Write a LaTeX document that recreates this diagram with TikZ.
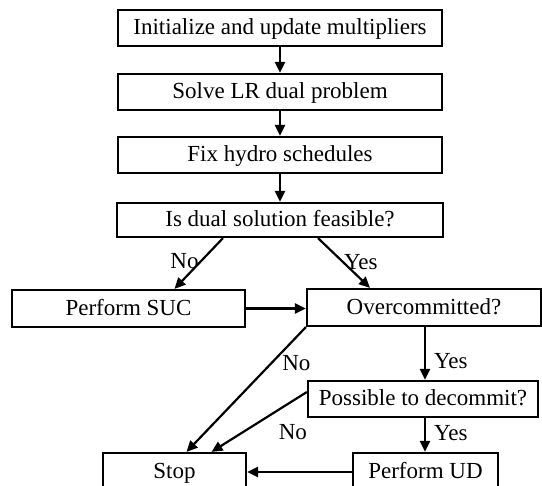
\documentclass[tikz,border=0pt]{standalone}
\usepackage{fontspec}
\setmainfont{Liberation Serif}
\usetikzlibrary{arrows.meta}
\tikzset{
	stepbox/.style={draw, line width=2.2pt, inner sep=0pt, text height=17pt, text depth=3pt},
	flow/.style={line width=2.2pt, -{Triangle[length=11pt, width=10pt]}},
	lbl/.style={inner sep=1pt}
}

\begin{document}
\begin{tikzpicture}[x=1pt, y=-1pt, font=\fontsize{23}{27}\selectfont]
		%%%%% START %%%%%
		
		\useasboundingbox (0, 0) rectangle (542, 486);
		\clip (0, 0) rectangle (542, 486);
		
		\node[stepbox, minimum width=324pt, minimum height=36pt] (init) at (280, 28) {Initialize and update multipliers};
		\node[stepbox, minimum width=324pt, minimum height=36pt] (solve) at (280, 92) {Solve LR dual problem};
		\node[stepbox, minimum width=324pt, minimum height=36pt] (fix) at (280, 155) {Fix hydro schedules};
		\node[stepbox, minimum width=326pt, minimum height=34pt] (feas) at (280, 220) {Is dual solution feasible?};
		
		\node[stepbox, minimum width=233pt, minimum height=37pt] (suc) at (128.5, 308.5) {Perform SUC};
		\node[stepbox, minimum width=234pt, minimum height=37pt] (over) at (424, 307.5) {Overcommitted?};
		\node[stepbox, minimum width=230pt, minimum height=36pt] (decom) at (423, 399) {Possible to decommit?};
		
		\node[stepbox, minimum width=143pt, minimum height=38pt] (stop) at (174.5, 472) {Stop};
		\node[stepbox, minimum width=145pt, minimum height=38pt] (ud) at (425.5, 472) {Perform UD};
		
		\draw[flow] (init) -- (solve);
		\draw[flow] (solve) -- (fix);
		\draw[flow] (fix) -- (feas);
		
		\draw[flow] ([xshift=-57pt]feas.south) -- ([xshift=46pt]suc.north)
			node[lbl, pos=0.46, left=0pt] {No};
		\draw[flow] ([xshift=38pt]feas.south) -- ([xshift=-54pt]over.north)
			node[lbl, pos=0.48, right=-1pt] {Yes};
		
		\draw[flow] (suc.east) -- (suc.east -| over.west);
		
		\draw[flow] ([xshift=1pt]over.south) -- ([xshift=1pt]over.south |- decom.north)
			node[lbl, pos=0.65, right=7pt] {Yes};
		\draw[flow] (over.south west) -- ([xshift=12pt]stop.north)
			node[lbl, pos=0.29, right=9pt] {No};
		
		\draw[flow] ([yshift=7pt]decom.west) -- ([xshift=37pt]stop.north)
			node[lbl, pos=0.6, right=27pt, yshift=-4pt] {No};
		\draw[flow] ([xshift=2pt]decom.south) -- ([xshift=2pt]decom.south |- ud.north)
			node[lbl, pos=0.45, right=7pt] {Yes};
		
		\draw[flow] (ud.west) -- (stop.east);
		
		%%%%% END %%%%%
	\end{tikzpicture}
\end{document}
